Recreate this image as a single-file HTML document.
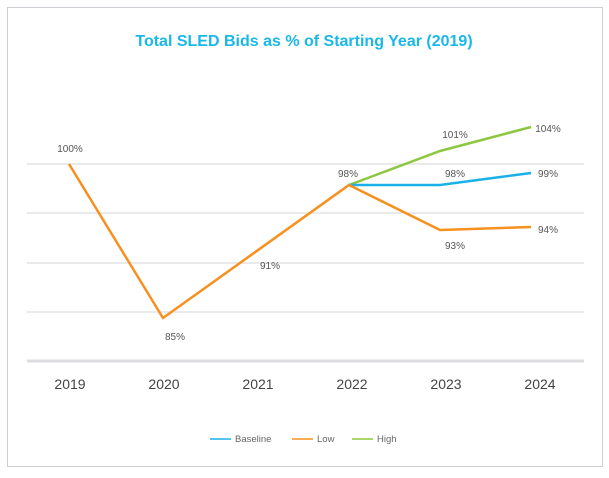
<!DOCTYPE html>
<html><head><meta charset="utf-8"><style>
html,body{margin:0;padding:0;background:#fff;}
svg{display:block;font-family:"Liberation Sans",sans-serif;}
</style></head><body>
<svg width="609" height="478" viewBox="0 0 609 478">
<rect x="7.5" y="7.5" width="595" height="459" fill="#fff" stroke="#ccd0d5" stroke-width="1"/>
<text x="304" y="46" text-anchor="middle" font-size="16" font-weight="bold" fill="#1ab8e8">Total SLED Bids as % of Starting Year (2019)</text>
<g stroke="#e3e4e6" stroke-width="1.5">
<line x1="27" y1="164" x2="584" y2="164"/>
<line x1="27" y1="213" x2="584" y2="213"/>
<line x1="27" y1="263" x2="584" y2="263"/>
<line x1="27" y1="312" x2="584" y2="312"/>
</g>
<line x1="27" y1="361" x2="584" y2="361" stroke="#dcdde0" stroke-width="3"/>
<polyline points="349,185 440,151 531,127" fill="none" stroke="#8dc63f" stroke-width="2.5"/>
<polyline points="349,185 440,185 531,173" fill="none" stroke="#1ab0e8" stroke-width="2.5"/>
<polyline points="69,164 163,318 349,185 440,230 531,227" fill="none" stroke="#f7901e" stroke-width="2.5"/>
<g font-size="10" fill="#555">
<text x="70" y="152" text-anchor="middle">100%</text>
<text x="175" y="340" text-anchor="middle">85%</text>
<text x="270" y="269" text-anchor="middle">91%</text>
<text x="348" y="177" text-anchor="middle">98%</text>
<text x="455" y="138" text-anchor="middle">101%</text>
<text x="455" y="177" text-anchor="middle">98%</text>
<text x="455" y="249" text-anchor="middle">93%</text>
<text x="548" y="132" text-anchor="middle">104%</text>
<text x="548" y="177" text-anchor="middle">99%</text>
<text x="548" y="233" text-anchor="middle">94%</text>
</g>
<g font-size="14" fill="#444" text-anchor="middle">
<text x="70" y="389">2019</text>
<text x="164" y="389">2020</text>
<text x="258" y="389">2021</text>
<text x="352" y="389">2022</text>
<text x="446" y="389">2023</text>
<text x="540" y="389">2024</text>
</g>
<g font-size="9.5" fill="#666">
<line x1="210" y1="439" x2="231" y2="439" stroke="#1ab0e8" stroke-width="1.5"/>
<text x="235" y="442">Baseline</text>
<line x1="292" y1="439" x2="313" y2="439" stroke="#f7901e" stroke-width="1.5"/>
<text x="317" y="442">Low</text>
<line x1="352" y1="439" x2="373" y2="439" stroke="#8dc63f" stroke-width="1.5"/>
<text x="377" y="442">High</text>
</g>
</svg>
</body></html>
